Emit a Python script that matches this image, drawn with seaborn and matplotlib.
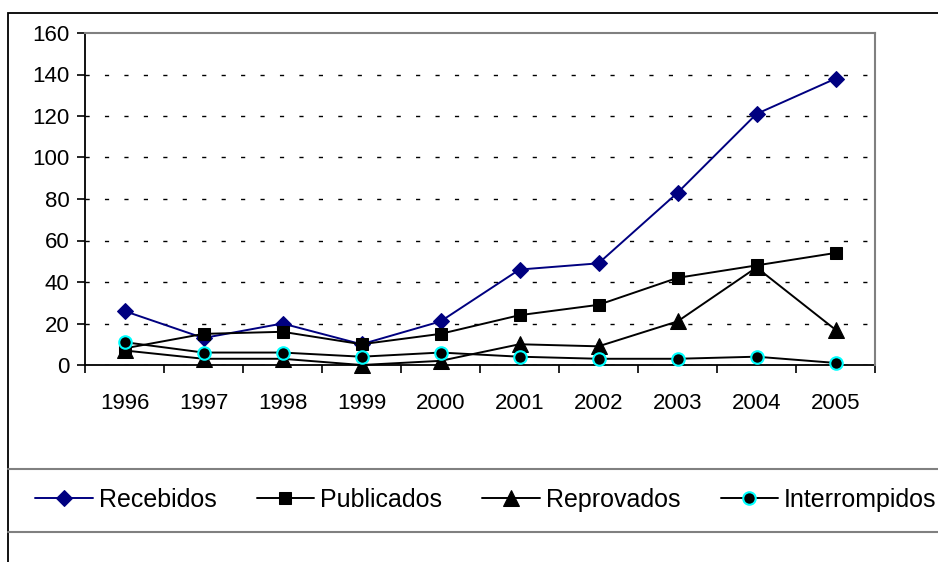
import matplotlib
matplotlib.use("Agg")
import matplotlib.pyplot as plt
import seaborn as sns
from matplotlib.lines import Line2D
from matplotlib.patches import Rectangle

# dados
anos = ["1996", "1997", "1998", "1999", "2000", "2001", "2002", "2003", "2004", "2005"]
recebidos = [26, 13, 20, 10, 21, 46, 49, 83, 121, 138]
publicados = [8, 15, 16, 10, 15, 24, 29, 42, 48, 54]
reprovados = [7, 3, 3, 0, 2, 10, 9, 21, 47, 17]
interrompidos = [11, 6, 6, 4, 6, 4, 3, 3, 4, 1]

sns.set_style("white")
plt.rcParams['font.family'] = ['Liberation Sans', 'DejaVu Sans']
plt.rcParams['text.color'] = 'black'
plt.rcParams['xtick.color'] = 'black'
plt.rcParams['ytick.color'] = 'black'

W, H = 938, 562
fig = plt.figure(figsize=(W / 100, H / 100), dpi=100)
ax = fig.add_axes([85 / W, 1 - 365 / H, 790 / W, 332 / H])

series = [
    ("Recebidos", recebidos, dict(marker="D", color="#000080", markersize=8,
                                  markeredgecolor="#000080")),
    ("Publicados", publicados, dict(marker="s", color="black", markersize=8,
                                    markeredgecolor="black")),
    ("Reprovados", reprovados, dict(marker="^", color="black", markersize=11,
                                    markeredgecolor="black")),
    ("Interrompidos", interrompidos, dict(marker="o", color="black", markersize=9,
                                          markerfacecolor="black",
                                          markeredgecolor="#00FFFF",
                                          markeredgewidth=1.5)),
]

for nome, valores, estilo in series:
    sns.lineplot(x=anos, y=valores, ax=ax, label=nome, linewidth=1.4,
                 clip_on=False, **estilo)

ax.set_xlim(-0.5, len(anos) - 0.5)
ax.set_ylim(0, 160)
ax.set_yticks(range(0, 161, 20))
ax.set_xticks(range(len(anos)))
ax.set_xticklabels(anos)
ax.set_xticks([i - 0.5 for i in range(len(anos) + 1)], minor=True)
ax.tick_params(axis="x", which="major", bottom=True, length=0, pad=20,
               labelsize=16, labelcolor="black")
ax.tick_params(axis="x", which="minor", bottom=True, length=6, width=1.2,
               color="black", direction="out")
ax.tick_params(axis="y", left=True, length=6, width=1.2, color="black",
               direction="out", pad=5, labelsize=16, labelcolor="black")
ax.set_xlabel("")
ax.set_ylabel("")

ax.yaxis.grid(True, color="black", linewidth=1, linestyle=(0, (3, 11)))
ax.xaxis.grid(False)
ax.set_axisbelow(True)
ax.yaxis.get_gridlines()[-1].set_visible(False)

for lado in ["left", "bottom"]:
    ax.spines[lado].set_color("black")
    ax.spines[lado].set_linewidth(1.3)
for lado in ["top", "right"]:
    ax.spines[lado].set_color("#808080")
    ax.spines[lado].set_linewidth(1.5)
ax.spines["bottom"].set_zorder(0.5)

handles, labels = ax.get_legend_handles_labels()
ax.get_legend().remove()
fig.legend(handles, labels, loc="center left", bbox_to_anchor=(25 / W, 1 - 500 / H),
           ncol=4, frameon=False, fontsize=18, handlelength=2.3,
           handletextpad=0.25, columnspacing=1.6, borderaxespad=0)

# moldura externa e linhas da caixa da legenda
fig.patches.append(Rectangle((8 / W, -0.05), 1.0, 1 - 13 / H + 0.05,
                             transform=fig.transFigure, fill=False,
                             edgecolor="black", linewidth=1.3))
for yy in [469, 532]:
    fig.lines.append(Line2D([8 / W, 1], [1 - yy / H, 1 - yy / H],
                            transform=fig.transFigure, color="#808080",
                            linewidth=1.5))

fig.savefig("out.png", dpi=100)
